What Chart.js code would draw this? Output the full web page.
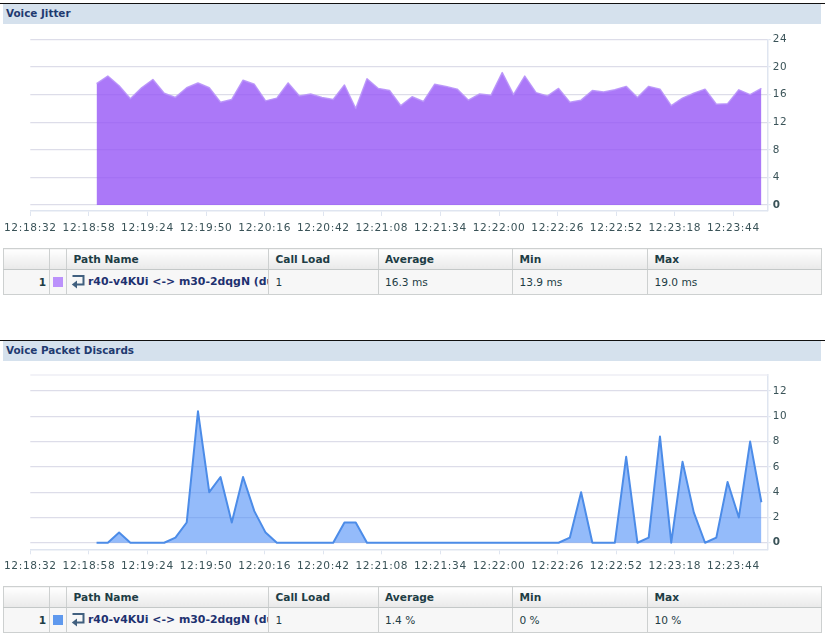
<!DOCTYPE html>
<html>
<head>
<meta charset="utf-8">
<style>
  html, body { margin: 0; padding: 0; background: #fff; overflow: hidden; }
  body { width: 825px; height: 636px; position: relative; font-family: "DejaVu Sans", sans-serif; }
  canvas { position: absolute; left: 0; }
  .head { position: absolute; left: 0; width: 818px; height: 19.5px; padding: 0 4px 0 3px;
          background-clip: content-box; background-color: #d5e1ed; border-top: 1.5px solid #111; }
  .head span { display: block; padding-left: 3px; font: bold 10.4px/19px "DejaVu Sans", sans-serif; color: #1f3a70; }
  table { position: absolute; left: 3px; width: 818px; table-layout: fixed; border-collapse: collapse;
          border: 1.5px solid #c4c8c8; font-size: 10.6px; color: #1e3d45; }
  th, td { border: 1px solid #cdd0d0; padding: 0 0 0 6.5px; overflow: hidden; white-space: nowrap; text-align: left; }
  th { height: 19.5px; background: linear-gradient(#ffffff, #e9e9e9); border-bottom: 1.5px solid #c4c8c8; font-weight: bold; }
  td { height: 24.5px; background: #f7f7f7; }
  td.num { text-align: right; padding: 0 3px 0 0; font-weight: bold; }
  td.sw { padding: 0 0 0 2.5px; }
  td.sw i { display: block; width: 10px; height: 10px; }
  td.path { font-weight: bold; color: #1e3170; font-size: 10.9px; padding-left: 4px; }
  td.path svg { vertical-align: -4px; margin-right: 3px; }
</style>
</head>
<body>
<div class="head" style="top:3px"><span>Voice Jitter</span></div>
<canvas id="jitterChart" width="825" height="216" style="top:24px"></canvas>
<table id="jitterTable" style="top:248px"></table>
<div class="head" style="top:340px"><span>Voice Packet Discards</span></div>
<canvas id="discardChart" width="825" height="216" style="top:362px"></canvas>
<table id="discardTable" style="top:586px"></table>
<script src="https://cdn.jsdelivr.net/npm/chart.js@4/dist/chart.umd.min.js"></script>
<script>
// seconds after 12:18:32
const sampleSeconds = [29.4, 34.4, 39.4, 44.4, 49.4, 54.4, 59.4, 64.4, 69.4, 74.4,
  79.4, 84.4, 89.4, 94.4, 99.4, 104.4, 109.4, 114.4, 119.4, 124.4,
  129.4, 134.4, 139.4, 144.4, 149.4, 154.4, 159.4, 164.4, 169.4, 174.4,
  179.4, 184.4, 189.4, 194.4, 199.4, 204.4, 209.4, 214.4, 219.4, 224.4,
  229.4, 234.4, 239.4, 244.4, 249.4, 254.4, 259.4, 264.4, 269.4, 274.4,
  279.4, 284.4, 289.4, 294.4, 299.4, 304.4, 309.4, 314.4, 319.4, 324.4];

const jitterValues = [17.6, 18.7, 17.3, 15.4, 17.0, 18.2, 16.2, 15.6, 17.0, 17.7,
  17.0, 14.9, 15.3, 18.1, 17.5, 15.1, 15.5, 17.7, 15.8, 16.1,
  15.6, 15.3, 17.4, 14.0, 18.3, 16.9, 16.6, 14.4, 15.7, 15.0,
  17.5, 17.2, 16.8, 15.2, 16.1, 15.9, 19.2, 16.0, 18.7, 16.3,
  15.8, 16.9, 14.9, 15.2, 16.6, 16.4, 16.7, 17.2, 15.6, 17.2,
  16.8, 14.4, 15.5, 16.2, 16.8, 14.6, 14.7, 16.7, 16.0, 16.9];

const discardValues = [0, 0, 0.8, 0, 0, 0, 0, 0.4, 1.6, 10.4,
  4.0, 5.2, 1.6, 5.2, 2.5, 0.8, 0, 0, 0, 0,
  0, 0, 1.6, 1.6, 0, 0, 0, 0, 0, 0,
  0, 0, 0, 0, 0, 0, 0, 0, 0, 0,
  0, 0, 0.4, 4.0, 0, 0, 0, 6.8, 0, 0.4,
  8.4, 0, 6.4, 2.4, 0, 0.4, 4.8, 2.0, 8.0, 3.2];

const timeTickSeconds = [0, 26, 52, 78, 104, 130, 156, 182, 208, 234, 260, 286, 312];
const timeTickLabels = ['12:18:32', '12:18:58', '12:19:24', '12:19:50', '12:20:16', '12:20:42', '12:21:08',
  '12:21:34', '12:22:00', '12:22:26', '12:22:52', '12:23:18', '12:23:44'];
const jitterTicks = [0, 4, 8, 12, 16, 20, 24];
const discardTicks = [0, 2, 4, 6, 8, 10, 12];

const tableColumns = ['Path Name', 'Call Load', 'Average', 'Min', 'Max'];
const pathName = 'r40-v4KUi <-> m30-2dqgN (duplex)';
const jitterRow = ['1', '16.3 ms', '13.9 ms', '19.0 ms'];
const discardRow = ['1', '1.4 %', '0 %', '10 %'];

const gridColor = '#dddde9';
const axisColor = '#dfe5f0';
const textColor = '#3a5358';

// the tick labels in the reference are spaced out a little
const spacedText = {
  id: 'spacedText',
  beforeDraw(chart) { chart.ctx.letterSpacing = '0.65px'; }
};

// top edge of the plot box, only the discards chart has a visible one
const topEdge = {
  id: 'topEdge',
  beforeDatasetsDraw(chart) {
    const area = chart.chartArea, ctx = chart.ctx;
    ctx.save();
    ctx.strokeStyle = '#eeeef4';
    ctx.lineWidth = 1.5;
    ctx.beginPath();
    ctx.moveTo(area.left, area.top);
    ctx.lineTo(area.right, area.top);
    ctx.stroke();
    ctx.restore();
  }
};

function makeChart(id, label, values, yTicks, yMin, yMax, lineColor, fillColor, lineWidth, topPad, axisHeight, plugins) {
  return new Chart(document.getElementById(id).getContext('2d'), {
    type: 'line',
    data: {
      datasets: [{
        label: label,
        data: sampleSeconds.map((s, i) => ({ x: s, y: values[i] })),
        borderColor: lineColor,
        backgroundColor: fillColor,
        borderWidth: lineWidth,
        borderJoinStyle: 'round',
        pointRadius: 0,
        tension: 0,
        fill: { value: 0 }
      }]
    },
    plugins: plugins,
    options: {
      responsive: false,
      animation: false,
      layout: { padding: { top: topPad, left: 30.3, right: 0, bottom: 0 } },
      plugins: { legend: { display: false }, tooltip: { enabled: false } },
      scales: {
        x: {
          type: 'linear',
          min: 0,
          max: 327.2,
          afterBuildTicks: scale => { scale.ticks = timeTickSeconds.map(v => ({ value: v })); },
          afterFit: scale => { scale.height = axisHeight; scale.paddingLeft = 0; scale.paddingRight = 0; },
          grid: { drawOnChartArea: false, color: axisColor, tickLength: 5, tickColor: axisColor },
          border: { color: axisColor, width: 1.5 },
          ticks: {
            autoSkip: false,
            maxRotation: 0,
            padding: 6,
            color: textColor,
            font: { family: 'DejaVu Sans', size: 10.6 },
            callback: (value, index) => timeTickLabels[index]
          }
        },
        y: {
          position: 'right',
          min: yMin,
          max: yMax,
          afterBuildTicks: scale => { scale.ticks = yTicks.map(v => ({ value: v })); },
          afterFit: scale => { scale.width = 57.3; },
          grid: { color: gridColor, lineWidth: 1.2, tickLength: 3, tickColor: axisColor },
          border: { color: axisColor, width: 1.5 },
          ticks: {
            padding: 2,
            color: textColor,
            font: ctx => ({ family: 'DejaVu Sans', size: 10.4, weight: ctx.tick && ctx.tick.value === 0 ? 'bold' : 'normal' }),
            callback: value => String(value)
          }
        }
      }
    }
  });
}

makeChart('jitterChart', 'Voice Jitter', jitterValues, jitterTicks, -0.87, 24,
  'rgba(184,146,250,0.9)', 'rgba(150,86,246,0.8)', 1.5, 15.5, 29, [spacedText]);
makeChart('discardChart', 'Voice Packet Discards', discardValues, discardTicks, -0.52, 13.27,
  '#4c8ce8', 'rgba(77,142,247,0.6)', 2, 13, 28.7, [spacedText, topEdge]);

const returnIcon = '<svg width="14" height="15" viewBox="0 0 14 15"><path d="M1.5 2h11v8.5H4" fill="none" stroke="#41607f" stroke-width="2"/>' +
  '<path d="M6 6.5L0.8 10.5l5.2 4z" fill="#41607f"/></svg>';

function fillTable(id, row, swatch) {
  const widths = [46, 17, 202, 109.5, 134.5, 135, 174];
  const esc = s => s.replace(/</g, '&lt;').replace(/>/g, '&gt;');
  let html = '<colgroup>' + widths.map(w => '<col style="width:' + w + 'px">').join('') + '</colgroup>';
  html += '<tr><th></th><th></th>' + tableColumns.map(c => '<th>' + c + '</th>').join('') + '</tr>';
  html += '<tr><td class="num">1</td><td class="sw"><i style="background:' + swatch + '"></i></td>' +
    '<td class="path">' + returnIcon + esc(pathName) + '</td>' +
    row.map(v => '<td>' + v + '</td>').join('') + '</tr>';
  document.getElementById(id).innerHTML = html;
}
fillTable('jitterTable', jitterRow, '#bb91fb');
fillTable('discardTable', discardRow, '#5f99ee');
</script>
</body>
</html>
